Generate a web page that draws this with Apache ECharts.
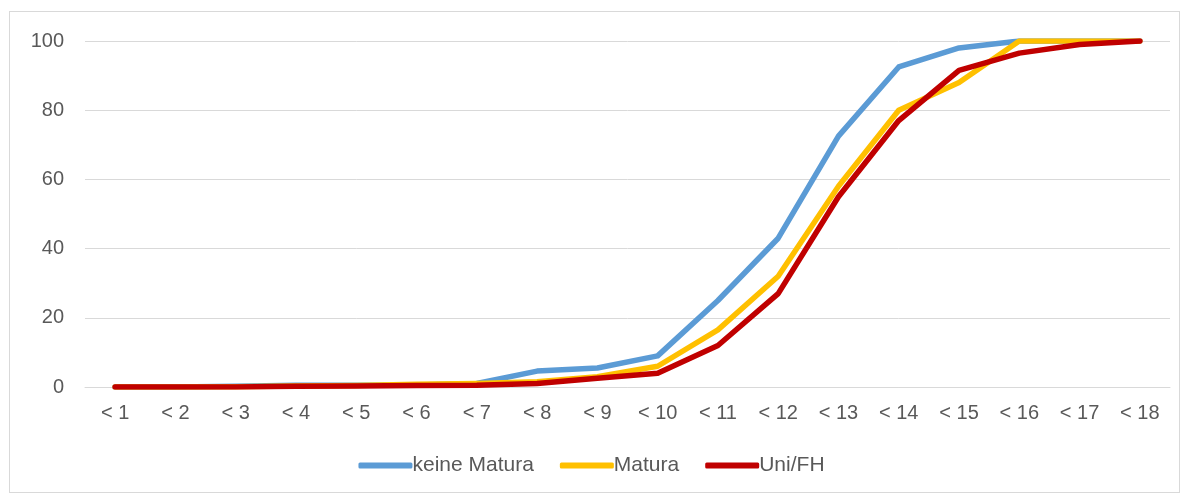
<!DOCTYPE html>
<html><head><meta charset="utf-8">
<script src="https://cdn.jsdelivr.net/npm/echarts@6/dist/echarts.min.js"></script>
<style>html,body{margin:0;padding:0;background:#fff}#c{width:1183px;height:495px}
#frame{position:absolute;left:9px;top:11px;width:1171px;height:482px;border:1px solid #d9d9d9;box-sizing:border-box;pointer-events:none}</style>
</head><body><div id="c"></div><div id="frame"></div>
<script>
const categories = ['< 1','< 2','< 3','< 4','< 5','< 6','< 7','< 8','< 9','< 10','< 11','< 12','< 13','< 14','< 15','< 16','< 17','< 18'];
const keineMatura = [0, 0, 0.2, 0.5, 0.5, 0.6, 1, 4.6, 5.5, 9, 25, 43, 72.5, 92.5, 98, 100, 100, 100];
const matura = [0, 0, 0.1, 0.3, 0.4, 0.8, 1, 1.5, 3, 6, 16.5, 32, 58, 80, 88, 100, 100, 100];
const uniFH = [0, 0, 0, 0.2, 0.3, 0.4, 0.5, 1, 2.5, 4, 12, 27, 55, 77, 91.5, 96.5, 99, 100];
const yTicks = [0, 20, 40, 60, 80, 100];

const chart = echarts.init(document.getElementById('c'));
const font = 'Liberation Sans, Arial, sans-serif';
const mk = (name, data, color) => ({
  name, type: 'line', data, showSymbol: false, symbol: 'none',
  lineStyle: {width: 5.5, color, cap: 'round', join: 'round'}, itemStyle: {color}
});
chart.setOption({
  animation: false,
  grid: {left: 85, right: 13, top: 41, bottom: 108, containLabel: false},
  xAxis: {
    type: 'category', data: categories, boundaryGap: true,
    axisLine: {show: true, lineStyle: {color: '#d9d9d9'}},
    axisTick: {show: false},
    axisLabel: {color: '#595959', fontSize: 20, fontFamily: font, margin: 16, interval: 0}
  },
  yAxis: {
    type: 'value', min: yTicks[0], max: yTicks[yTicks.length-1], interval: 20,
    axisLine: {show: false}, axisTick: {show: false},
    splitLine: {lineStyle: {color: '#d9d9d9', width: 1}},
    axisLabel: {color: '#595959', fontSize: 20, fontFamily: font, margin: 21}
  },
  legend: {
    bottom: 14, left: 'center', itemWidth: 54, itemHeight: 6, itemGap: 26,
    icon: 'roundRect',
    textStyle: {color: '#595959', fontSize: 21, fontFamily: font, padding: [0,0,0,-5]},
    data: ['keine Matura', 'Matura', 'Uni/FH']
  },
  series: [
    mk('keine Matura', keineMatura, '#5B9BD5'),
    mk('Matura', matura, '#FFC000'),
    mk('Uni/FH', uniFH, '#C00000')
  ]
});
</script></body></html>
